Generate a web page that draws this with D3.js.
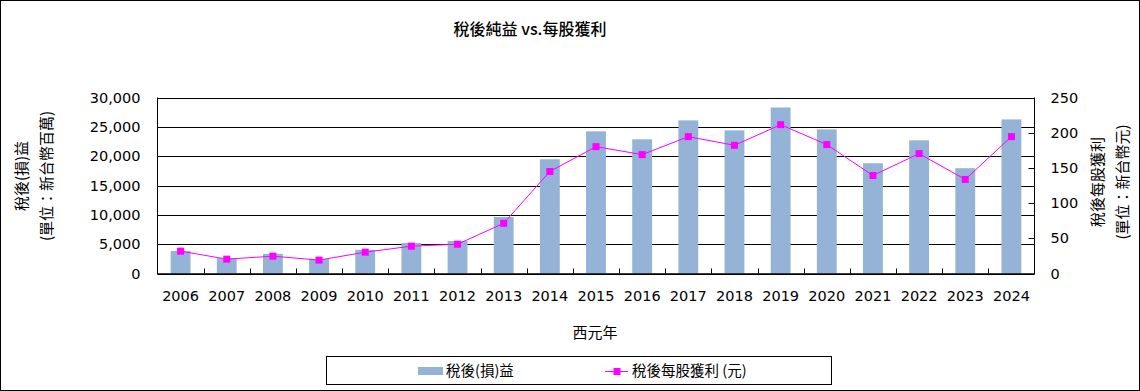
<!DOCTYPE html>
<html><head><meta charset="utf-8">
<script src="https://cdn.jsdelivr.net/npm/d3@7/dist/d3.min.js"></script>
<style>
html,body{margin:0;padding:0;background:#fff;}
svg{display:block;}
text{font-family:"DejaVu Sans","Noto Sans CJK TC",sans-serif;fill:#000;}
.cjk{font-family:"Noto Sans CJK TC","DejaVu Sans",sans-serif;}
</style></head>
<body>
<script>
const years = ["2006","2007","2008","2009","2010","2011","2012","2013","2014","2015","2016","2017","2018","2019","2020","2021","2022","2023","2024"];
const netIncome = [3850,2620,3350,2450,4020,5210,5550,9630,19470,24230,22870,26100,24400,28300,24570,18790,22700,17950,26270];
const eps = [31.7,20.4,24.6,19.0,30.3,38.8,41.6,71.3,144.9,180.2,168.9,194.4,182.1,211.4,183.1,139.2,170.3,133.6,194.4];
const leftTicks = [0,5000,10000,15000,20000,25000,30000];
const rightTicks = [0,50,100,150,200,250];

const W = 1140, H = 391;
const m = {left:157.5, right:1034.5, top:97.5, bottom:273.5};

const svg = d3.select("body").append("svg").attr("width",W).attr("height",H);
svg.append("rect").attr("x",0.5).attr("y",0.5).attr("width",W-1).attr("height",H-1)
  .attr("fill","#fff").attr("stroke","#000");

const x = d3.scaleBand().domain(years).range([m.left,m.right]).padding(0);
const yL = d3.scaleLinear().domain([0,30000]).range([m.bottom,m.top]);
const yR = d3.scaleLinear().domain([0,250]).range([m.bottom,m.top]);

// gridlines
svg.append("g").selectAll("line").data(leftTicks).join("line")
  .attr("x1",m.left).attr("x2",m.right)
  .attr("y1",d=>Math.round(yL(d))+0.5).attr("y2",d=>Math.round(yL(d))+0.5)
  .attr("stroke","#000").attr("stroke-width",1);

// bars
const bw = x.bandwidth()*0.43;
svg.append("g").selectAll("rect").data(years).join("rect")
  .attr("x",(d)=>x(d)+x.bandwidth()/2-bw/2)
  .attr("width",bw)
  .attr("y",(d,i)=>yL(netIncome[i]))
  .attr("height",(d,i)=>yL(0)-yL(netIncome[i]))
  .attr("fill","#95B3D7");

// frame
svg.append("line").attr("x1",m.left).attr("x2",m.left).attr("y1",m.top).attr("y2",m.bottom+0.5).attr("stroke","#000");
svg.append("line").attr("x1",m.right).attr("x2",m.right).attr("y1",m.top).attr("y2",m.bottom+0.5).attr("stroke","#000");
svg.append("line").attr("x1",m.left).attr("x2",m.right).attr("y1",m.bottom+0.5).attr("y2",m.bottom+0.5).attr("stroke","#000").attr("stroke-width",1.5);

// bottom axis (ticks inward between categories)
const xAxis = d3.axisBottom(x).tickSize(0).tickPadding(17);
const gx = svg.append("g").attr("transform",`translate(0,${m.bottom+0.5})`).call(xAxis);
gx.select(".domain").remove();
gx.selectAll("text").attr("font-size",14.5).style("font-family","DejaVu Sans");
svg.append("g").selectAll("line").data(years.slice(1)).join("line")
  .attr("x1",d=>Math.round(x(d))+0.5).attr("x2",d=>Math.round(x(d))+0.5)
  .attr("y1",m.bottom).attr("y2",m.bottom-5).attr("stroke","#000");

// left axis
const gl = svg.append("g").attr("transform",`translate(${m.left},0)`)
  .call(d3.axisLeft(yL).tickValues(leftTicks).tickSize(0).tickPadding(17).tickFormat(d3.format(",")));
gl.select(".domain").remove();
gl.selectAll("text").attr("font-size",14.5).style("font-family","DejaVu Sans");

// right axis
const gr = svg.append("g").attr("transform",`translate(${m.right},0)`)
  .call(d3.axisRight(yR).tickValues(rightTicks).tickSize(0).tickPadding(16));
gr.select(".domain").remove();
gr.selectAll("text").attr("font-size",14.5).style("font-family","DejaVu Sans");
svg.append("g").selectAll("line").data(rightTicks.slice(1,-1)).join("line")
  .attr("x1",m.right-6).attr("x2",m.right)
  .attr("y1",d=>Math.round(yR(d))+0.5).attr("y2",d=>Math.round(yR(d))+0.5).attr("stroke","#000");

// line
const line = d3.line().x((d,i)=>x(years[i])+x.bandwidth()/2).y(d=>yR(d));
svg.append("path").datum(eps).attr("d",line).attr("fill","none").attr("stroke","#FF00FF").attr("stroke-width",1);
svg.append("g").selectAll("rect").data(eps).join("rect")
  .attr("x",(d,i)=>x(years[i])+x.bandwidth()/2-3.5).attr("y",d=>yR(d)-3.5)
  .attr("width",7).attr("height",7).attr("fill","#FF00FF");

// title
svg.append("text").attr("class","cjk").attr("x",530).attr("y",35).attr("text-anchor","middle")
  .attr("font-size",16).attr("font-weight",500).text("稅後純益 vs.每股獲利");

// x title
svg.append("text").attr("class","cjk").attr("x",595).attr("y",338).attr("text-anchor","middle")
  .attr("font-size",15).text("西元年");

// left axis title
const lt = svg.append("text").attr("class","cjk").attr("transform","translate(27,176) rotate(-90)")
  .attr("text-anchor","middle").attr("font-size",15);
lt.append("tspan").attr("x",0).attr("dy",0).text("稅後(損)益");
lt.append("tspan").attr("x",0).attr("dy",25).text("(單位：新台幣百萬)");

// right axis title
const rt = svg.append("text").attr("class","cjk").attr("transform","translate(1103,182) rotate(-90)")
  .attr("text-anchor","middle").attr("font-size",15);
rt.append("tspan").attr("x",0).attr("dy",0).text("稅後每股獲利");
rt.append("tspan").attr("x",0).attr("dy",25).text("(單位：新台幣元)");

// legend
svg.append("rect").attr("x",326.5).attr("y",356.5).attr("width",505).attr("height",28)
  .attr("fill","#fff").attr("stroke","#000");
svg.append("rect").attr("x",418).attr("y",367).attr("width",25).attr("height",8).attr("fill","#95B3D7");
svg.append("text").attr("class","cjk").attr("x",446).attr("y",376).attr("font-size",14.5).text("稅後(損)益");
svg.append("line").attr("x1",605).attr("x2",628).attr("y1",371.5).attr("y2",371.5).attr("stroke","#FF00FF");
svg.append("rect").attr("x",613.5).attr("y",368).attr("width",7).attr("height",7).attr("fill","#FF00FF");
svg.append("text").attr("class","cjk").attr("x",632).attr("y",376).attr("font-size",14.5).text("稅後每股獲利 (元)");
</script>
</body></html>
